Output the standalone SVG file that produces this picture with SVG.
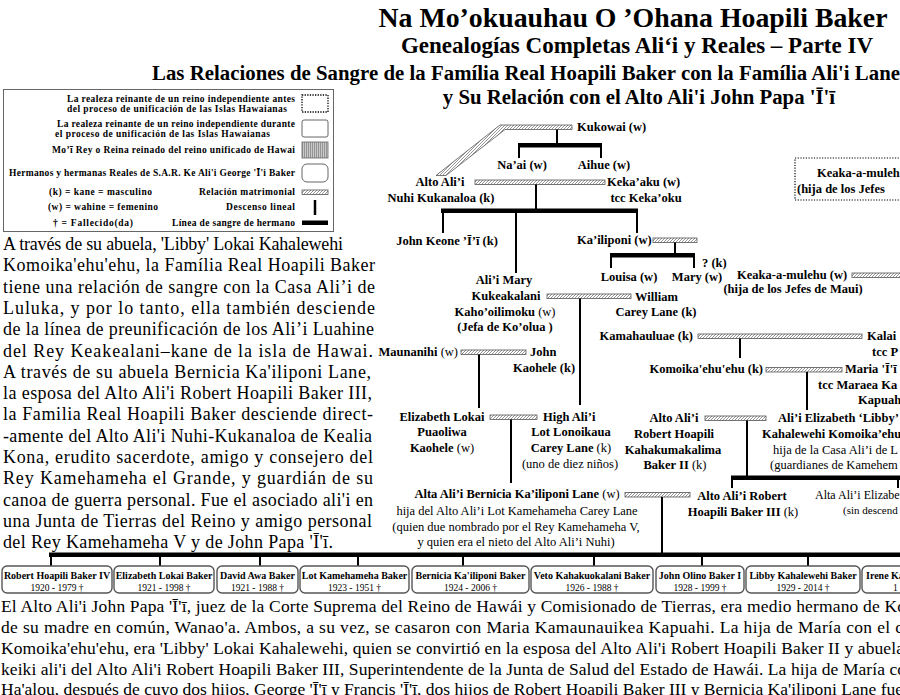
<svg xmlns="http://www.w3.org/2000/svg" width="900" height="695" viewBox="0 0 900 695">
<defs>
<pattern id="hatch" patternUnits="userSpaceOnUse" width="3" height="3">
<rect width="3" height="3" fill="#fff"/>
<path d="M-1,1 L1,-1 M0,3 L3,0 M2,4 L4,2" stroke="#777" stroke-width="0.8"/>
</pattern>
<pattern id="vstripe" patternUnits="userSpaceOnUse" width="2" height="4">
<rect width="2" height="4" fill="#c8c8c8"/>
<line x1="0.5" y1="0" x2="0.5" y2="4" stroke="#888" stroke-width="0.8"/>
</pattern>
<style>
text{font-family:"Liberation Serif","Times New Roman",serif;fill:#000}
.b{font-weight:bold;font-size:12.5px}
.r{font-weight:normal;font-size:12.5px}
.n{font-weight:normal}
.m{text-anchor:middle}
.e{text-anchor:end}
.lg{font-weight:bold;font-size:9.5px}
.p{font-size:18px}
.bt{font-size:17.5px}
.bn{font-weight:bold;font-size:10px;text-anchor:middle}
.bd{font-size:9.5px;text-anchor:middle}
.hb{fill:url(#hatch);stroke:#555;stroke-width:0.8}
.ln{stroke:#000;stroke-width:2;fill:none}
.tk{fill:#000}
.cb{fill:#fff;stroke:#555;stroke-width:1.4}
</style>
</defs>
<rect width="900" height="695" fill="#fff"/>

<g id="title">
<text x="633" y="27" class="m" style="font-weight:bold;font-size:27.8px">Na Mo’okuauhau O ’Ohana Hoapili Baker</text>
<text x="637" y="53" class="m" style="font-weight:bold;font-size:23px">Genealogías Completas Ali‘i y Reales – Parte IV</text>
<text x="152" y="80" style="font-weight:bold;font-size:20.8px" textLength="748">Las Relaciones de Sangre de la Família Real Hoapili Baker con la Família Ali'i Lane</text>
<text x="639" y="104" class="m" style="font-weight:bold;font-size:20.8px">y Su Relación con el Alto Ali'i John Papa 'Ī'ī</text>
</g>

<g id="legend">
<rect x="3.5" y="89.5" width="330" height="142" fill="#fff" stroke="#666" stroke-width="1"/>
<text x="67" y="102" class="lg" textLength="228">La realeza reinante de un reino independiente antes</text>
<text x="67" y="112" class="lg" textLength="220">del proceso de unificación de las Islas Hawaianas</text>
<rect x="302" y="95" width="26" height="17" fill="none" stroke="#000" stroke-width="1.3" stroke-dasharray="1.3,1.3"/>
<text x="57" y="127" class="lg" textLength="238">La realeza reinante de un reino independiente durante</text>
<text x="55" y="137" class="lg" textLength="215">el proceso de unificación de las Islas Hawaianas</text>
<rect x="302" y="120" width="26" height="17" rx="2" fill="#fff" stroke="#666" stroke-width="1"/>
<text x="52" y="153" class="lg" textLength="243">Mo’ī Rey o Reina reinado del reino unificado de Hawai</text>
<rect x="302" y="142" width="26" height="16" fill="url(#vstripe)" stroke="#666" stroke-width="0.8"/>
<text x="9" y="176" class="lg" textLength="286">Hermanos y hermanas Reales de S.A.R. Ke Ali'i George 'Ī'i Baker</text>
<rect x="302" y="164" width="26" height="18" rx="5" fill="#fff" stroke="#666" stroke-width="1"/>
<text x="49" y="195" class="lg" textLength="103">(k) = kane = masculino</text>
<text x="199" y="195" class="lg" textLength="96">Relación matrimonial</text>
<rect x="302" y="190" width="26" height="4.5" class="hb"/>
<text x="48" y="210" class="lg" textLength="110">(w) = wahine = femenino</text>
<text x="226" y="210" class="lg" textLength="69">Descenso lineal</text>
<line x1="315" y1="200" x2="315" y2="215" stroke="#000" stroke-width="2.5"/>
<text x="53" y="226" class="lg" textLength="80">†  =  Fallecido(da)</text>
<text x="172" y="226" class="lg" textLength="123">Línea de sangre de hermano</text>
<rect x="302" y="220.5" width="26" height="4.5" fill="#000"/>
</g>

<g id="paragraph-left" class="p">
<text x="3" y="250" class="p" textLength="340">A través de su abuela, 'Libby' Lokai Kahalewehi</text>
<text x="3" y="271.3" class="p" textLength="372">Komoika'ehu'ehu, la Família Real Hoapili Baker</text>
<text x="3" y="292.6" class="p" textLength="372">tiene una relación de sangre con la Casa Ali’i de</text>
<text x="3" y="313.9" class="p" textLength="372">Luluka, y por lo tanto, ella también desciende</text>
<text x="3" y="335.2" class="p" textLength="371">de la línea de preunificación de los Ali’i Luahine</text>
<text x="3" y="356.5" class="p" textLength="370">del Rey Keakealani–kane de la isla de Hawai.</text>
<text x="3" y="377.8" class="p" textLength="368">A través de su abuela Bernicia Ka'iliponi Lane,</text>
<text x="3" y="399.1" class="p" textLength="369">la esposa del Alto Ali'i Robert Hoapili Baker III,</text>
<text x="3" y="420.4" class="p" textLength="370">la Familia Real Hoapili Baker desciende direct-</text>
<text x="3" y="441.7" class="p" textLength="369">-amente del Alto Ali'i Nuhi-Kukanaloa de Kealia</text>
<text x="3" y="463" class="p" textLength="370">Kona, erudito sacerdote, amigo y consejero del</text>
<text x="3" y="484.3" class="p" textLength="370">Rey Kamehameha el Grande, y guardián de su</text>
<text x="3" y="505.6" class="p" textLength="370">canoa de guerra personal. Fue el asociado ali'i en</text>
<text x="3" y="526.9" class="p" textLength="369">una Junta de Tierras del Reino y amigo personal</text>
<text x="3" y="548.2" class="p" textLength="330">del Rey Kamehameha V y de John Papa 'Ī'ī.</text>
</g>

<g id="connectors">
<polygon class="hb" points="500,125 572,125 572,129.5 505,129.5 446,175.5 436,175.5"/>
<line class="ln" x1="557" y1="129.5" x2="557" y2="144"/>
<rect class="tk" x="518" y="143" width="84" height="4.5"/>
<line class="ln" x1="519" y1="147" x2="519" y2="158"/>
<line class="ln" x1="601" y1="147" x2="601" y2="158"/>

<rect class="hb" x="475" y="180" width="130" height="4.5"/>
<line class="ln" x1="536" y1="184.5" x2="536" y2="209"/>
<rect class="tk" x="441" y="208.5" width="197" height="4.5"/>
<line class="ln" x1="443" y1="213" x2="443" y2="233"/>
<line class="ln" x1="516" y1="213" x2="516" y2="273"/>
<line class="ln" x1="637" y1="213" x2="637" y2="233"/>

<rect class="hb" x="653" y="238" width="44" height="4.5"/>
<line class="ln" x1="675" y1="242.5" x2="675" y2="254"/>
<rect class="tk" x="610" y="253" width="85" height="4.5"/>
<line class="ln" x1="611" y1="257" x2="611" y2="268"/>
<line class="ln" x1="694" y1="257" x2="694" y2="268"/>

<rect class="hb" x="852" y="273" width="60" height="4.5"/>

<rect class="hb" x="547" y="294" width="84" height="4.5"/>
<line class="ln" x1="580" y1="298.5" x2="580" y2="405"/>

<rect class="hb" x="698" y="334" width="164" height="4.5"/>
<line class="ln" x1="740" y1="338.5" x2="740" y2="358"/>

<rect class="hb" x="461" y="350" width="65" height="4.5"/>
<line class="ln" x1="479" y1="354.5" x2="479" y2="408"/>

<rect class="hb" x="766" y="367.5" width="76" height="4.5"/>
<line class="ln" x1="807" y1="372" x2="807" y2="410"/>

<rect class="hb" x="490" y="415" width="47" height="4.5"/>
<line class="ln" x1="511" y1="419.5" x2="511" y2="483"/>

<rect class="hb" x="705" y="416" width="61" height="4.5"/>
<line class="ln" x1="747" y1="420.5" x2="747" y2="476"/>
<rect class="tk" x="731" y="475.5" width="175" height="4.5"/>
<line class="ln" x1="732" y1="479.5" x2="732" y2="488"/>
<line class="ln" x1="898" y1="479.5" x2="898" y2="488"/>

<rect class="hb" x="625" y="492.5" width="65" height="4.5"/>
<line class="ln" x1="662" y1="497" x2="662" y2="553"/>
<rect class="tk" x="49" y="552.5" width="860" height="4.5"/>
<line class="ln" x1="51" y1="557" x2="51" y2="566"/>
<line class="ln" x1="160" y1="557" x2="160" y2="566"/>
<line class="ln" x1="260" y1="557" x2="260" y2="566"/>
<line class="ln" x1="358" y1="557" x2="358" y2="566"/>
<line class="ln" x1="463" y1="557" x2="463" y2="566"/>
<line class="ln" x1="594" y1="557" x2="594" y2="566"/>
<line class="ln" x1="702" y1="557" x2="702" y2="566"/>
<line class="ln" x1="808" y1="557" x2="808" y2="566"/>
</g>

<g id="kukowai"><text x="577" y="131" class="b">Kukowai (w)</text></g>
<g id="naai"><text x="522" y="169" class="b m">Na’ai (w)</text></g>
<g id="aihue"><text x="604" y="169" class="b m">Aihue (w)</text></g>
<g id="nuhi">
<text x="440" y="186" class="b m">Alto Ali’i</text>
<text x="441" y="202" class="b m">Nuhi Kukanaloa (k)</text>
</g>
<g id="kekaaku">
<text x="607" y="186" class="b">Keka’aku (w)</text>
<text x="646" y="202" class="b m">tcc Keka’oku</text>
</g>
<g id="keaka-box">
<rect x="795" y="158" width="120" height="42" fill="none" stroke="#000" stroke-width="1.2" stroke-dasharray="1.2,1.5"/>
<text x="817" y="177" class="b">Keaka-a-mulehu</text>
<text x="797" y="193" class="b">(hija de los Jefes</text>
</g>
<g id="john-keone"><text x="447" y="245" class="b m">John Keone ’Ī’ī (k)</text></g>
<g id="kailiponi"><text x="577" y="244" class="b">Ka’iliponi (w)</text></g>
<g id="louisa"><text x="629" y="281" class="b m">Louisa (w)</text></g>
<g id="mary"><text x="697" y="281" class="b m">Mary (w)</text></g>
<g id="unknown-k"><text x="702" y="267" class="b">? (k)</text></g>
<g id="keaka">
<text x="737" y="279" class="b">Keaka-a-mulehu (w)</text>
<text x="793" y="293" class="b m">(hija de los Jefes de Maui)</text>
</g>
<g id="alii-mary">
<text x="504" y="284" class="b m">Ali’i Mary</text>
<text x="506" y="300" class="b m">Kukeakalani</text>
<text x="505" y="316" class="b m">Kaho’oilimoku <tspan class="n">(w)</tspan></text>
<text x="505" y="331" class="b m">(Jefa de Ko’olua )</text>
</g>
<g id="william">
<text x="635" y="301" class="b">William</text>
<text x="656" y="316" class="b m">Carey Lane (k)</text>
</g>
<g id="kamahauluae"><text x="693" y="340" class="b e">Kamahauluae (k)</text></g>
<g id="kalai">
<text x="867" y="340" class="b">Kalai</text>
<text x="872" y="356" class="b">tcc P</text>
</g>
<g id="maunanihi"><text x="458" y="356" class="b e">Maunanihi <tspan class="n">(w)</tspan></text></g>
<g id="john-kaohele">
<text x="530" y="356" class="b">John</text>
<text x="544" y="372" class="b m">Kaohele (k)</text>
</g>
<g id="komoika"><text x="763" y="373" class="b e">Komoika'ehu'ehu (k)</text></g>
<g id="maria">
<text x="845" y="373" class="b">Maria 'Ī'ī I</text>
<text x="818" y="389" class="b">tcc Maraea Ka</text>
<text x="858" y="404" class="b">Kapuah</text>
</g>
<g id="elizabeth-lokai">
<text x="442" y="421" class="b m">Elizabeth Lokai</text>
<text x="442" y="436" class="b m">Puaoliwa</text>
<text x="442" y="452" class="b m">Kaohele <tspan class="n">(w)</tspan></text>
</g>
<g id="lot-lonoikaua">
<text x="543" y="421" class="b">High Ali’i</text>
<text x="571" y="436" class="b m">Lot Lonoikaua</text>
<text x="571" y="452" class="b m">Carey Lane <tspan class="n">(k)</tspan></text>
<text x="570" y="468" class="r m">(uno de diez niños)</text>
</g>
<g id="robert-ii">
<text x="674" y="422" class="b m">Alto Ali’i</text>
<text x="674" y="438" class="b m">Robert Hoapili</text>
<text x="673" y="454" class="b m">Kahakumakalima</text>
<text x="675" y="469" class="b m">Baker II <tspan class="n">(k)</tspan></text>
</g>
<g id="libby">
<text x="778" y="422" class="b">Ali’i Elizabeth ‘Libby’</text>
<text x="762" y="438" class="b">Kahalewehi Komoika’ehu</text>
<text x="773" y="454" class="r">hija de la Casa Ali’i de L</text>
<text x="770" y="469" class="r">(guardianes de Kamehem</text>
</g>
<g id="bernicia">
<text x="517" y="498" class="b m">Alta Ali’i Bernicia Ka’iliponi Lane <tspan class="n">(w)</tspan></text>
<text x="517" y="515" class="r m">hija del Alto Ali’i Lot Kamehameha Carey Lane</text>
<text x="516" y="531" class="r m">(quien due nombrado por el Rey Kamehameha V,</text>
<text x="516" y="546" class="r m">y quien era el nieto del Alto Ali’i Nuhi)</text>
</g>
<g id="robert-iii">
<text x="742" y="500" class="b m">Alto Ali’i Robert</text>
<text x="743" y="516" class="b m">Hoapili Baker III <tspan class="n">(k)</tspan></text>
</g>
<g id="elizabeth-alta">
<text x="815" y="499" class="r" style="font-size:12px">Alta Ali’i Elizabet</text>
<text x="843" y="514" class="r" style="font-size:11px">(sin descend</text>
</g>

<g id="child-robert-iv"><rect class="cb" x="2" y="566" width="110" height="27" rx="5"/><text x="57" y="579" class="bn">Robert Hoapili Baker IV</text><text x="57" y="590.5" class="bd">1920 - 1979 †</text></g>
<g id="child-elizabeth"><rect class="cb" x="114" y="566" width="100" height="27" rx="5"/><text x="164" y="579" class="bn">Elizabeth Lokai Baker</text><text x="164" y="590.5" class="bd">1921 - 1998 †</text></g>
<g id="child-david"><rect class="cb" x="217" y="566" width="81" height="27" rx="5"/><text x="257.5" y="579" class="bn">David Awa Baker</text><text x="257.5" y="590.5" class="bd">1921 - 1988 †</text></g>
<g id="child-lot"><rect class="cb" x="300" y="566" width="109" height="27" rx="5"/><text x="354.5" y="579" class="bn">Lot Kamehameha Baker</text><text x="354.5" y="590.5" class="bd">1923 - 1951 †</text></g>
<g id="child-bernicia"><rect class="cb" x="412" y="566" width="117" height="27" rx="5"/><text x="470.5" y="579" class="bn">Bernicia Ka'iliponi Baker</text><text x="470.5" y="590.5" class="bd">1924 - 2006 †</text></g>
<g id="child-veto"><rect class="cb" x="531" y="566" width="122" height="27" rx="5"/><text x="592" y="579" class="bn">Veto Kahakuokalani Baker</text><text x="592" y="590.5" class="bd">1926 - 1988 †</text></g>
<g id="child-john"><rect class="cb" x="656" y="566" width="88" height="27" rx="5"/><text x="700" y="579" class="bn">John Olino Baker I</text><text x="700" y="590.5" class="bd">1928 - 1999 †</text></g>
<g id="child-libby"><rect class="cb" x="746" y="566" width="114" height="27" rx="5"/><text x="803" y="579" class="bn">Libby Kahalewehi Baker</text><text x="803" y="590.5" class="bd">1929 - 2014 †</text></g>
<g id="child-irene"><rect class="cb" x="862" y="566" width="100" height="27" rx="5"/><text x="866" y="579" class="bn" style="text-anchor:start">Irene Ka</text><text x="893" y="590.5" class="bd" style="text-anchor:start">1</text></g>

<g id="paragraph-bottom">
<text x="1" y="612" class="bt" textLength="905">El Alto Ali'i John Papa 'Ī'ī, juez de la Corte Suprema del Reino de Hawái y Comisionado de Tierras, era medio hermano de Ko</text>
<text x="1" y="633" class="bt" textLength="902">de su madre en común, Wanao'a. Ambos, a su vez, se casaron con Maria Kamaunauikea Kapuahi. La hija de María con el c</text>
<text x="1" y="654" class="bt" textLength="903">Komoika'ehu'ehu, era 'Libby' Lokai Kahalewehi, quien se convirtió en la esposa del Alto Ali'i Robert Hoapili Baker II y abuela</text>
<text x="1" y="675" class="bt" textLength="905">keiki ali'i del Alto Ali'i Robert Hoapili Baker III, Superintendente de la Junta de Salud del Estado de Hawái. La hija de María co</text>
<text x="1" y="695" class="bt" textLength="902">Ha'alou, después de cuyo dos hijos, George 'Ī'ī y Francis 'Ī'ī, dos hijos de Robert Hoapili Baker III y Bernicia Ka'iliponi Lane fue</text>
</g>
</svg>
